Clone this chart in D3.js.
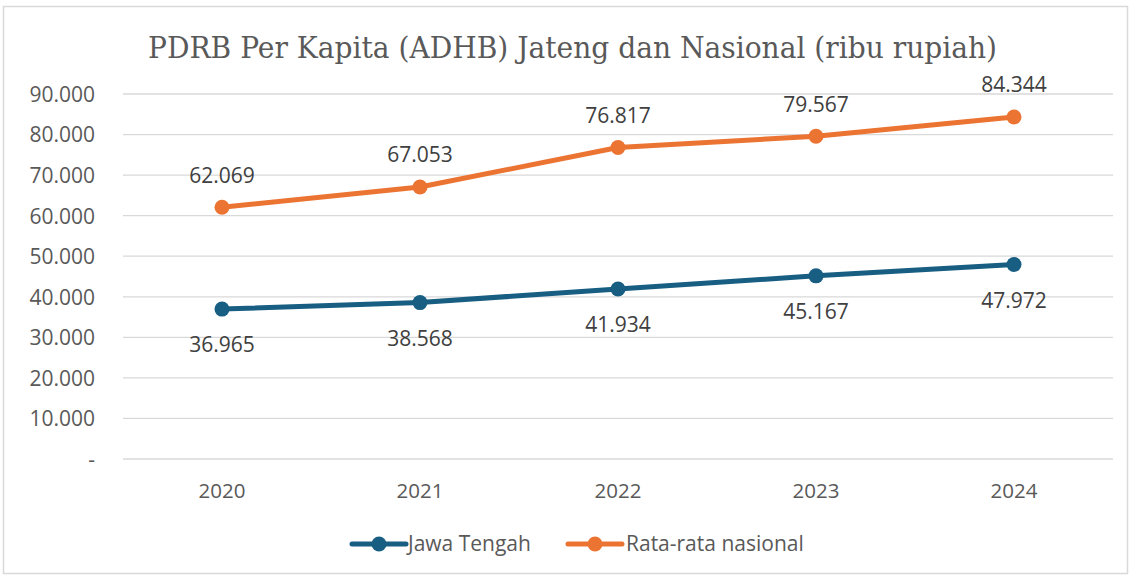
<!DOCTYPE html>
<html><head><meta charset="utf-8">
<script src="https://cdn.jsdelivr.net/npm/d3@7"></script>
<style>body{margin:0;background:#fff}svg{display:block}</style>
</head><body><svg id="c" width="1132" height="577"></svg>
<script>
const years = ["2020","2021","2022","2023","2024"];
const jawaTengah = [36965, 38568, 41934, 45167, 47972];
const nasional = [62069, 67053, 76817, 79567, 84344];
const yTicks = [0,10000,20000,30000,40000,50000,60000,70000,80000,90000];
const title = "PDRB Per Kapita (ADHB) Jateng dan Nasional (ribu rupiah)";
const seriesNames = ["Jawa Tengah","Rata-rata nasional"];
const colors = ["#175e82","#ec7432"];

const svg = d3.select("#c");
const fmt = v => v===0 ? "-" : d3.format(",")(v).replace(/,/g,".");
const x = d3.scaleBand().domain(years).range([123,1113]);
const y = d3.scaleLinear().domain([0,90000]).range([459,94]);
const font = "'Open Sans', 'Noto Sans', sans-serif";

svg.append("rect").attr("x",3.5).attr("y",6.5).attr("width",1124).attr("height",567)
  .attr("fill","#fff").attr("stroke","#d9d9d9").attr("stroke-width",1.5);

svg.append("text").attr("x",148).attr("y",58)
  .attr("font-family","'DejaVu Serif', serif").attr("font-size",30).attr("fill","#595959")
  .attr("textLength",849).attr("lengthAdjust","spacingAndGlyphs").text(title);

// grid
svg.append("g").selectAll("line").data(yTicks).join("line")
  .attr("x1",123).attr("x2",1113).attr("y1",d=>y(d)).attr("y2",d=>y(d))
  .attr("stroke","#d9d9d9").attr("stroke-width",1.3);

// y axis labels
const ya = svg.append("g").attr("transform","translate(95,0)")
  .call(d3.axisLeft(y).tickValues(yTicks).tickFormat(fmt).tickSize(0).tickPadding(0));
ya.select(".domain").remove();
ya.selectAll("text").attr("font-family",font).attr("font-size",21).attr("fill","#595959").attr("dy","0.35em");

// x axis labels
const xa = svg.append("g").attr("transform","translate(0,483)")
  .call(d3.axisBottom(x).tickSize(0).tickPadding(0));
xa.select(".domain").remove();
xa.selectAll("text").attr("font-family",font).attr("font-size",20.5).attr("fill","#595959").attr("dy","0.71em");

const cx = d => x(d)+x.bandwidth()/2;
const line = d3.line().x((d,i)=>cx(years[i])).y(d=>y(d));
[jawaTengah, nasional].forEach((s,k)=>{
  svg.append("path").datum(s).attr("d",line).attr("fill","none")
    .attr("stroke",colors[k]).attr("stroke-width",5).attr("stroke-linejoin","round");
  svg.append("g").selectAll("circle").data(s).join("circle")
    .attr("cx",(d,i)=>cx(years[i])).attr("cy",d=>y(d)).attr("r",7.5).attr("fill",colors[k]);
  svg.append("g").selectAll("text").data(s).join("text")
    .attr("x",(d,i)=>cx(years[i])).attr("y",d=>y(d)+(k===0?36:-32))
    .attr("dy","0.35em").attr("text-anchor","middle")
    .attr("font-family",font).attr("font-size",21).attr("fill","#404040").text(fmt);
});

// legend
const leg = [{x0:352,tx:408},{x0:568,tx:626}];
leg.forEach((l,k)=>{
  const g = svg.append("g");
  g.append("line").attr("x1",l.x0).attr("x2",l.x0+54).attr("y1",544).attr("y2",544)
    .attr("stroke",colors[k]).attr("stroke-width",5).attr("stroke-linecap","round");
  g.append("circle").attr("cx",l.x0+27).attr("cy",544).attr("r",7.5).attr("fill",colors[k]);
  g.append("text").attr("x",l.tx).attr("y",544).attr("dy","0.35em")
    .attr("font-family",font).attr("font-size",21).attr("fill","#595959").text(seriesNames[k]);
});
</script></body></html>
